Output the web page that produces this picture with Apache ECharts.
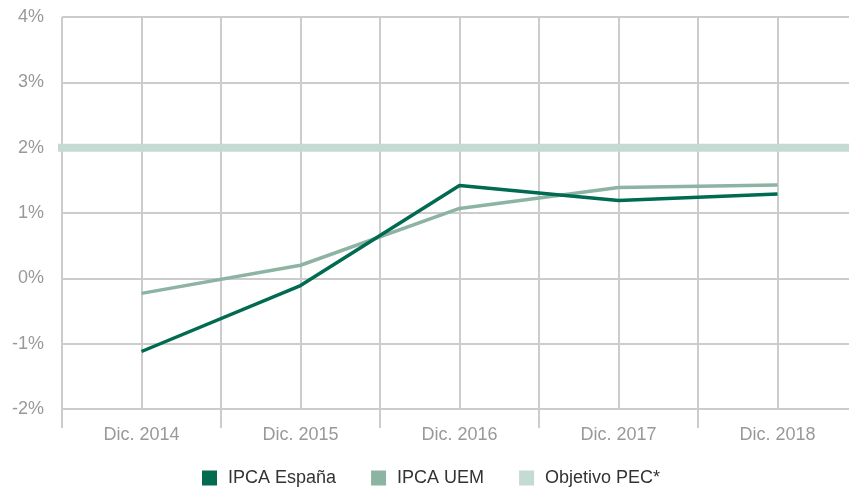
<!DOCTYPE html>
<html>
<head>
<meta charset="utf-8">
<script src="https://cdn.jsdelivr.net/npm/echarts@6/dist/echarts.min.js"></script>
<style>
  html, body { margin: 0; padding: 0; background: #fff; }
  #main { width: 849px; height: 488px; }
</style>
</head>
<body>
<div id="main"></div>
<script>
// categories and values
var years = ['Dic. 2014', 'Dic. 2015', 'Dic. 2016', 'Dic. 2017', 'Dic. 2018'];
var ipcaEspana = [-1.12, -0.11, 1.42, 1.19, 1.29];
var ipcaUem = [-0.23, 0.2, 1.07, 1.39, 1.43];
var objetivoPec = 2;

var chart = echarts.init(document.getElementById('main'));
var font = '"Liberation Sans", Arial, sans-serif';
var gridGray = '#ccc';

chart.setOption({
  animation: false,
  grid: { left: 62, width: 795, top: 17, bottom: 79, outerBoundsMode: 'none', containLabel: false },
  legend: {
    top: 469,
    left: 202,
    padding: 0,
    icon: 'rect',
    itemWidth: 15,
    itemHeight: 15,
    itemGap: 35,
    textStyle: { fontFamily: font, fontSize: 18, color: '#333', padding: [0, 0, 0, 6] },
    data: ['IPCA España', 'IPCA UEM', 'Objetivo PEC*']
  },
  xAxis: [{
    type: 'category',
    position: 'bottom',
    data: years,
    boundaryGap: true,
    axisLine: { show: true, lineStyle: { color: gridGray, width: 2 } },
    axisTick: { show: false },
    axisLabel: { margin: 17, fontFamily: font, fontSize: 18, color: '#999' },
    splitLine: { show: false }
  }, {
    // helper axis: gridlines at categories and between them
    type: 'value',
    position: 'top',
    min: -0.5,
    max: 4.5,
    interval: 0.5,
    axisLine: { show: false },
    axisTick: { show: false },
    axisLabel: { show: false },
    splitLine: { show: true, lineStyle: { color: gridGray, width: 2 } }
  }, {
    // helper axis: long ticks between categories under the axis
    type: 'value',
    position: 'bottom',
    offset: 0,
    min: -0.5,
    max: 4.5,
    interval: 1,
    axisLine: { show: false },
    axisTick: { show: true, length: 19, lineStyle: { color: gridGray, width: 2 } },
    axisLabel: { show: false },
    splitLine: { show: false }
  }],
  yAxis: {
    type: 'value',
    min: -2,
    max: 4,
    interval: 1,
    axisLine: { show: true, lineStyle: { color: gridGray, width: 2 } },
    axisTick: { show: true, length: 7, lineStyle: { color: gridGray, width: 2 } },
    axisLabel: { margin: 18, fontFamily: font, fontSize: 18, color: '#999', formatter: '{value}%' },
    splitLine: { lineStyle: { color: gridGray, width: 2 } }
  },
  series: [{
    name: 'Objetivo PEC*',
    type: 'line',
    xAxisIndex: 1,
    data: [[-0.53, objetivoPec], [4.5, objetivoPec]],
    symbol: 'none',
    itemStyle: { color: '#c5dad2' },
    lineStyle: { color: '#c5dad2', width: 8 },
    z: 1
  }, {
    name: 'IPCA UEM',
    type: 'line',
    data: ipcaUem,
    symbol: 'none',
    itemStyle: { color: '#8db3a3' },
    lineStyle: { color: '#8db3a3', width: 3.5 },
    z: 2
  }, {
    name: 'IPCA España',
    type: 'line',
    data: ipcaEspana,
    symbol: 'none',
    itemStyle: { color: '#006b50' },
    lineStyle: { color: '#006b50', width: 3.5 },
    z: 3
  }]
});
</script>
</body>
</html>
